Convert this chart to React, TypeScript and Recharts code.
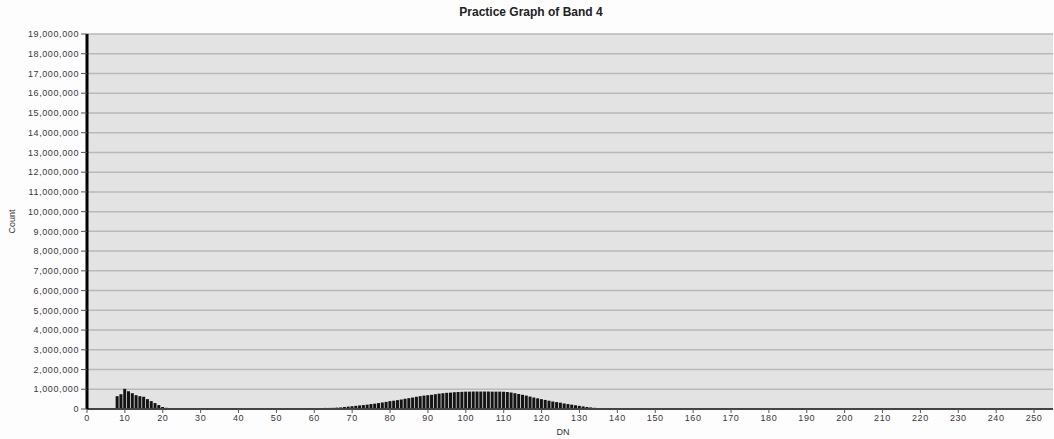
import React from 'react';
import { BarChart, Bar, XAxis, YAxis, CartesianGrid, Label } from 'recharts';

const title = 'Practice Graph of Band 4';
const xLabel = 'DN';
const yLabel = 'Count';

// Histogram counts for DN 0..145 (beyond that the counts are zero)
const counts: number[] = [
  0, 0, 0, 0, 0, 0, 0, 0, 650000, 750000,
  1020000, 900000, 800000, 700000, 650000, 620000, 500000, 400000, 300000, 200000,
  100000, 60000, 40000, 40000, 40000, 40000, 40000, 35000, 30000, 20000,
  20000, 20000, 40000, 45000, 50000, 50000, 50000, 50000, 50000, 50000,
  50000, 50000, 50000, 50000, 50000, 50000, 50000, 50000, 50000, 50000,
  50000, 50000, 50000, 50000, 50000, 50000, 50000, 50000, 50000, 50000,
  50000, 50000, 50000, 55000, 55000, 60000, 70000, 80000, 100000, 120000,
  140000, 160000, 180000, 200000, 220000, 250000, 270000, 300000, 330000, 360000,
  400000, 420000, 450000, 480000, 520000, 550000, 580000, 620000, 650000, 680000,
  700000, 720000, 750000, 780000, 800000, 820000, 830000, 850000, 860000, 870000,
  880000, 880000, 885000, 885000, 885000, 885000, 885000, 880000, 880000, 880000,
  875000, 860000, 840000, 800000, 760000, 720000, 680000, 630000, 580000, 540000,
  500000, 460000, 420000, 380000, 350000, 320000, 280000, 250000, 220000, 190000,
  160000, 130000, 100000, 80000, 60000, 50000, 40000, 30000, 20000, 15000,
  10000, 8000, 6000, 4000, 2000, 1000,
];

const xTicks: number[] = [0, 10, 20, 30, 40, 50, 60, 70, 80, 90, 100, 110, 120, 130, 140, 150, 160, 170, 180, 190, 200, 210, 220, 230, 240, 250];
const yTicks: number[] = [0, 1000000, 2000000, 3000000, 4000000, 5000000, 6000000, 7000000, 8000000, 9000000, 10000000, 11000000, 12000000, 13000000, 14000000, 15000000, 16000000, 17000000, 18000000, 19000000];

const data = counts.map((c, i) => ({ dn: i, count: c }));

const fmt = (v: number) => v.toLocaleString('en-US');

const tickStyle = { fontSize: 9, fill: '#3a3640', fontFamily: 'Liberation Sans, Arial, sans-serif', letterSpacing: 0.6 };

export default function App() {
  return (
    <div style={{ position: 'absolute', left: 0, top: 0, width: 1054, height: 439, background: '#fdfdfd' }}>
      <div
        style={{
          position: 'absolute',
          left: 0,
          top: 5,
          width: 1062,
          textAlign: 'center',
          fontFamily: 'Liberation Sans, Arial, sans-serif',
          fontWeight: 'bold',
          fontSize: 12,
          color: '#222',
        }}
      >
        {title}
      </div>
      <BarChart
        width={1054}
        height={439}
        data={data}
        margin={{ top: 34, right: 1, bottom: 0, left: 0 }}
        barCategoryGap="6%"
      >
        <CartesianGrid vertical={false} fill="#e3e3e3" stroke="#b9b9b9" strokeWidth={1.5} />
        <XAxis
          dataKey="dn"
          type="number"
          domain={[0, 255]}
          ticks={xTicks}
          interval={0}
          height={30}
          tick={tickStyle}
          tickSize={4}
          tickLine={{ stroke: '#555' }}
          axisLine={{ stroke: '#444', strokeWidth: 2 }}
          allowDataOverflow
        >
          <Label value={xLabel} position="insideBottom" offset={4} dx={-7} style={{ fontSize: 9, fill: '#333', fontFamily: 'Liberation Sans, Arial, sans-serif' }} />
        </XAxis>
        <YAxis
          type="number"
          domain={[0, 19000000]}
          ticks={yTicks}
          interval={0}
          width={87}
          tick={tickStyle}
          tickFormatter={fmt}
          tickSize={6}
          tickLine={{ stroke: '#555' }}
          axisLine={{ stroke: '#000', strokeWidth: 3 }}
        >
          <Label value={yLabel} angle={-90} position="insideLeft" offset={12} style={{ fontSize: 9, fill: '#333', fontFamily: 'Liberation Sans, Arial, sans-serif', textAnchor: 'middle' }} />
        </YAxis>
        <Bar dataKey="count" fill="#141414" isAnimationActive={false} />
      </BarChart>
    </div>
  );
}
